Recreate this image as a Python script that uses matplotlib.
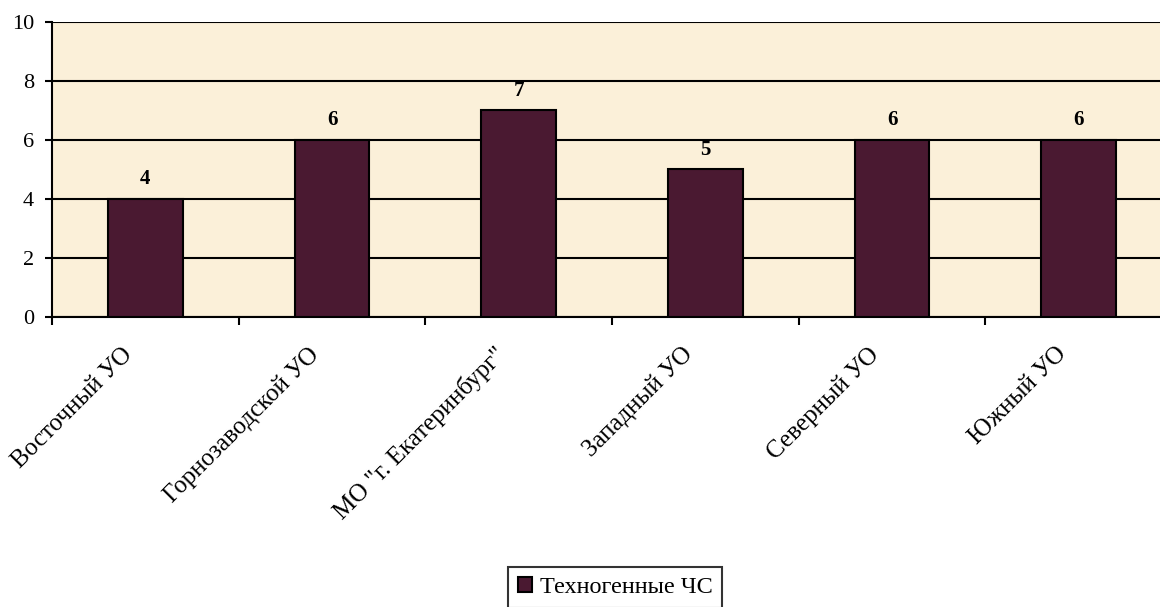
import numpy as np
import matplotlib.pyplot as plt
from matplotlib.transforms import ScaledTranslation

plt.rcParams['font.family'] = ['Liberation Serif', 'DejaVu Serif']

categories = ['Восточный УО', 'Горнозаводской УО', 'МО "г. Екатеринбург"',
              'Западный УО', 'Северный УО', 'Южный УО']
values = [4, 6, 7, 5, 6, 6]
series_name = 'Техногенные ЧС'

fig = plt.figure(figsize=(11.6, 6.07), dpi=100)
ax = fig.add_axes([52/1160, 1 - 317/607, (1172 - 52)/1160, (317 - 22)/607])

x = np.arange(len(categories))
ax.set_facecolor('#FBF0D9')
ax.set_axisbelow(True)
ax.yaxis.grid(True, color='black', lw=1.5)
ax.bar(x, values, width=0.4, color='#4A1931', edgecolor='black', lw=1.5,
       label=series_name, zorder=3)
for xi, v in zip(x, values):
    ax.annotate(str(v), (xi, v), xytext=(0, 7), textcoords='offset points',
                ha='center', va='bottom', fontsize=15, fontweight='bold')

ax.set_xlim(-0.5, len(categories) - 0.5)
ax.set_ylim(0, 10)
ax.set_yticks(range(0, 11, 2))
ax.tick_params(axis='y', labelsize=16, length=5, width=1.5, pad=8)

# boundary ticks + category labels
ax.set_xticks(np.arange(len(categories) + 1) - 0.5)
ax.set_xticklabels([])
ax.tick_params(axis='x', which='major', length=6, width=1.5)
ax.set_xticks(x, minor=True)
ax.set_xticklabels(categories, minor=True, rotation=45, ha='right',
                   va='center', rotation_mode='anchor', fontsize=18)
ax.tick_params(axis='x', which='minor', length=0, pad=0)
off = ScaledTranslation(-16/100, -34/100, fig.dpi_scale_trans)
for lab in ax.get_xticklabels(minor=True):
    lab.set_transform(lab.get_transform() + off)

for s in ['top', 'right']:
    ax.spines[s].set_visible(False)
for s in ['left', 'bottom']:
    ax.spines[s].set_linewidth(1.5)

leg = fig.legend(loc='upper center', bbox_to_anchor=(615/1160, 1 - 567/607),
                 fontsize=17.5, frameon=True, fancybox=False, handlelength=0.6,
                 handleheight=0.6, handletextpad=0.3, borderpad=0.4,
                 borderaxespad=0)
leg.get_frame().set_edgecolor('black')
leg.get_frame().set_linewidth(1.5)

fig.savefig('out.png', dpi=100)
